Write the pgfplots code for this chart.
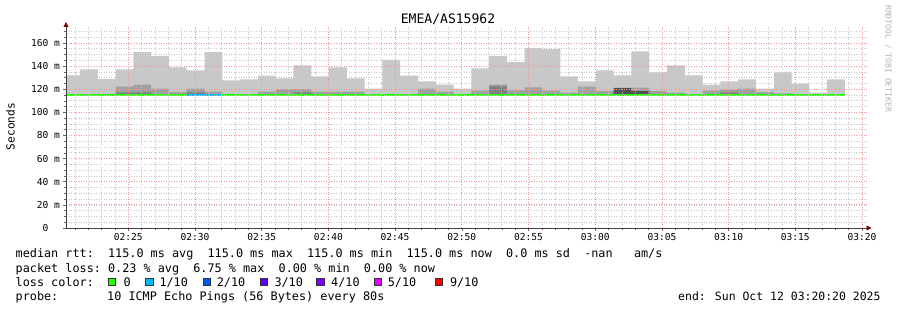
\documentclass[border=0pt]{standalone}
\usepackage{pgfplots}
\pgfplotsset{compat=1.18}
\usepackage{pgfplotstable}
\usepgfplotslibrary{fillbetween}
\usetikzlibrary{arrows.meta}
\usepackage{fontspec}
\newfontfamily\dvm{DejaVu Sans Mono}
\definecolor{smokeA}{RGB}{200,200,200}
\definecolor{smokeB}{RGB}{160,160,160}
\definecolor{smokeC}{RGB}{128,128,128}
\definecolor{smokeD}{RGB}{80,80,80}
\definecolor{loss0}{HTML}{26FF00}
\definecolor{loss1}{HTML}{00B8FF}
\definecolor{loss2}{HTML}{0059FF}
\definecolor{loss3}{HTML}{5E00FF}
\definecolor{loss4}{HTML}{7E00FF}
\definecolor{loss5}{HTML}{DD00FF}
\definecolor{loss9}{HTML}{FF0000}
\definecolor{arrowred}{RGB}{128,0,0}
\definecolor{gridred}{RGB}{240,150,150}
\definecolor{gridgray}{RGB}{200,200,200}
% t = start of 80 s step (minutes after 02:20), max = outer smoke, mid/dark/darkest = inner smoke layers
\pgfplotstableread{
t      max    mid    dark   darkest
0.000  132.0  115.0  115.0  115.0
1.383  137.2  115.0  115.0  115.0
2.717  128.8  115.0  115.0  115.0
4.050  137.2  122.3  117.3  115.0
5.383  152.1  124.1  117.3  115.0
6.717  148.6  120.6  115.0  115.0
8.050  139.0  117.5  115.0  115.0
9.383  136.4  120.6  117.3  115.0
10.717 152.1  118.0  115.0  115.0
12.050 127.6  115.0  115.0  115.0
13.383 128.5  115.0  115.0  115.0
14.717 131.7  118.0  115.0  115.0
16.050 129.4  120.0  115.0  115.0
17.383 140.7  120.0  117.3  115.0
18.717 131.1  118.0  115.0  115.0
20.050 139.0  118.0  115.0  115.0
21.383 129.4  118.0  115.0  115.0
22.717 120.6  115.0  115.0  115.0
24.050 145.4  115.0  115.0  115.0
25.383 131.7  115.0  115.0  115.0
26.717 126.7  120.6  115.0  115.0
28.050 124.1  118.0  115.0  115.0
29.383 120.6  115.0  115.0  115.0
30.717 138.1  118.8  115.0  115.0
32.050 148.6  124.1  122.5  115.0
33.383 143.4  119.1  115.0  115.0
34.717 155.6  121.7  115.0  115.0
36.050 154.7  118.8  115.0  115.0
37.383 131.1  117.1  115.0  115.0
38.717 126.7  122.3  115.0  115.0
40.050 136.4  118.3  115.0  115.0
41.383 132.0  121.3  115.0  120.9
42.717 152.8  121.5  115.0  118.3
44.050 134.6  118.3  115.0  115.0
45.383 140.7  117.0  115.0  115.0
46.717 132.0  115.0  115.0  115.0
48.050 124.1  118.8  115.0  115.0
49.383 126.7  119.7  117.2  115.0
50.717 128.5  120.6  115.0  115.0
52.050 120.6  117.5  115.0  115.0
53.383 134.6  116.5  115.0  115.0
54.717 124.8  115.0  115.0  115.0
56.050 117.1  115.0  115.0  115.0
57.383 128.5  115.0  115.0  115.0
58.717 128.5  115.0  115.0  115.0
}\smoke
\begin{document}
\begin{tikzpicture}
\path (0,0) rectangle (897bp,310bp);
\begin{axis}[
  axis on top,
  at={(66bp,82bp)}, anchor=south west,
  scale only axis, width=800.5bp, height=202bp,
  xmin=0.3333, xmax=60.3333, ymin=0, ymax=174.7,
  axis lines=left,
  axis line style={draw=black!75, line width=0.8bp, -{Triangle[length=5bp,width=5bp,color=arrowred,fill=arrowred]}},
  x axis line style={shorten >=-5bp},
  y axis line style={shorten >=-4bp},
  xtick={5,10,...,60},
  xticklabels={02:25,02:30,02:35,02:40,02:45,02:50,02:55,03:00,03:05,03:10,03:15,03:20},
  minor xtick={1,2,...,60},
  ytick={0,20,...,160},
  yticklabels={0\phantom{ m},20 m,40 m,60 m,80 m,100 m,120 m,140 m,160 m},
  minor ytick={5,10,...,170},
  grid=both,
  major grid style={draw=gridred, dash pattern=on 1bp off 1.5bp, line width=0.8bp},
  minor grid style={draw=gridgray, dash pattern=on 1bp off 1.5bp, line width=0.7bp},
  tick align=outside,
  major tick length=3bp, minor tick length=2bp,
  tick style={draw=black!60, line width=0.6bp},
  ticklabel style={font=\dvm\fontsize{9.6}{11}\selectfont, text=black},
  xticklabel style={anchor=north, inner sep=0pt, yshift=-2bp},
  yticklabel style={anchor=east, inner sep=0pt, xshift=-3bp},
]
\addplot[name path=base, draw=none, forget plot] coordinates {(0,115) (58.717,115)};
\addplot[name path=smax, draw=none, const plot, forget plot] table[x=t,y=max] {\smoke};
\addplot[name path=smid, draw=none, const plot, forget plot] table[x=t,y=mid] {\smoke};
\addplot[name path=sdark, draw=none, const plot, forget plot] table[x=t,y=dark] {\smoke};
\addplot[name path=sdarkest, draw=none, const plot, forget plot] table[x=t,y=darkest] {\smoke};
\addplot[fill=smokeA, draw=none] fill between[of=smax and base];
\addplot[fill=smokeB, draw=none] fill between[of=smid and base];
\addplot[fill=smokeC, draw=none] fill between[of=sdark and base];
\addplot[fill=smokeD, draw=none] fill between[of=sdarkest and base];
\addplot[loss0, line width=2.8bp] coordinates {(0,115) (58.717,115)};
\addplot[loss1, line width=2.8bp] coordinates {(9.383,115) (12.050,115)};
\end{axis}
% title, y label, watermark
\node[font=\dvm\fontsize{13.1}{15}\selectfont] at (448bp,291bp) {EMEA/AS15962};
\node[font=\dvm\fontsize{11.2}{13}\selectfont, rotate=90] at (10.5bp,183.5bp) {Seconds};
\node[font=\dvm\fontsize{8.1}{10}\selectfont, text=black!30, rotate=-90, anchor=west, inner sep=0pt] at (888.3bp,305bp) {RRDTOOL / TOBI OETIKER};
% legend text
\begin{scope}[every node/.style={font=\dvm\fontsize{11.85}{14}\selectfont\frenchspacing, anchor=base west, inner sep=0pt}]
\node at (15.5bp,52bp) {median rtt:~~115.0 ms avg~~115.0 ms max~~115.0 ms min~~115.0 ms now~~0.0 ms sd~~-nan~~~am/s};
\node at (15.5bp,38bp) {packet loss:~0.23 \% avg~~6.75 \% max~~0.00 \% min~~0.00 \% now};
\node at (15.5bp,24bp) {loss color:};
\node at (15.5bp,10bp) {probe:};
\node at (107bp,10bp) {10 ICMP Echo Pings (56 Bytes) every 80s};
\node at (123.3bp,24bp) {0};
\node at (159.3bp,24bp) {1/10};
\node at (216.6bp,24bp) {2/10};
\node at (274.3bp,24bp) {3/10};
\node at (331bp,24bp) {4/10};
\node at (387.6bp,24bp) {5/10};
\node at (449.8bp,24bp) {9/10};
\end{scope}
\node[font=\dvm\fontsize{11.5}{14}\selectfont, anchor=base west, inner sep=0pt] at (678bp,10bp) {end: Sun Oct 12 03:20:20 2025};
\foreach \bx/\bc in {108.5/loss0,145.8/loss1,203.4/loss2,260.1/loss3,316.8/loss4,374.1/loss5,435.1/loss9}{
  \draw[fill=\bc, draw=black!80, line width=0.7bp] (\bx bp,24.6bp) rectangle ++(7.2bp,7.2bp);
}
\end{tikzpicture}
\end{document}
